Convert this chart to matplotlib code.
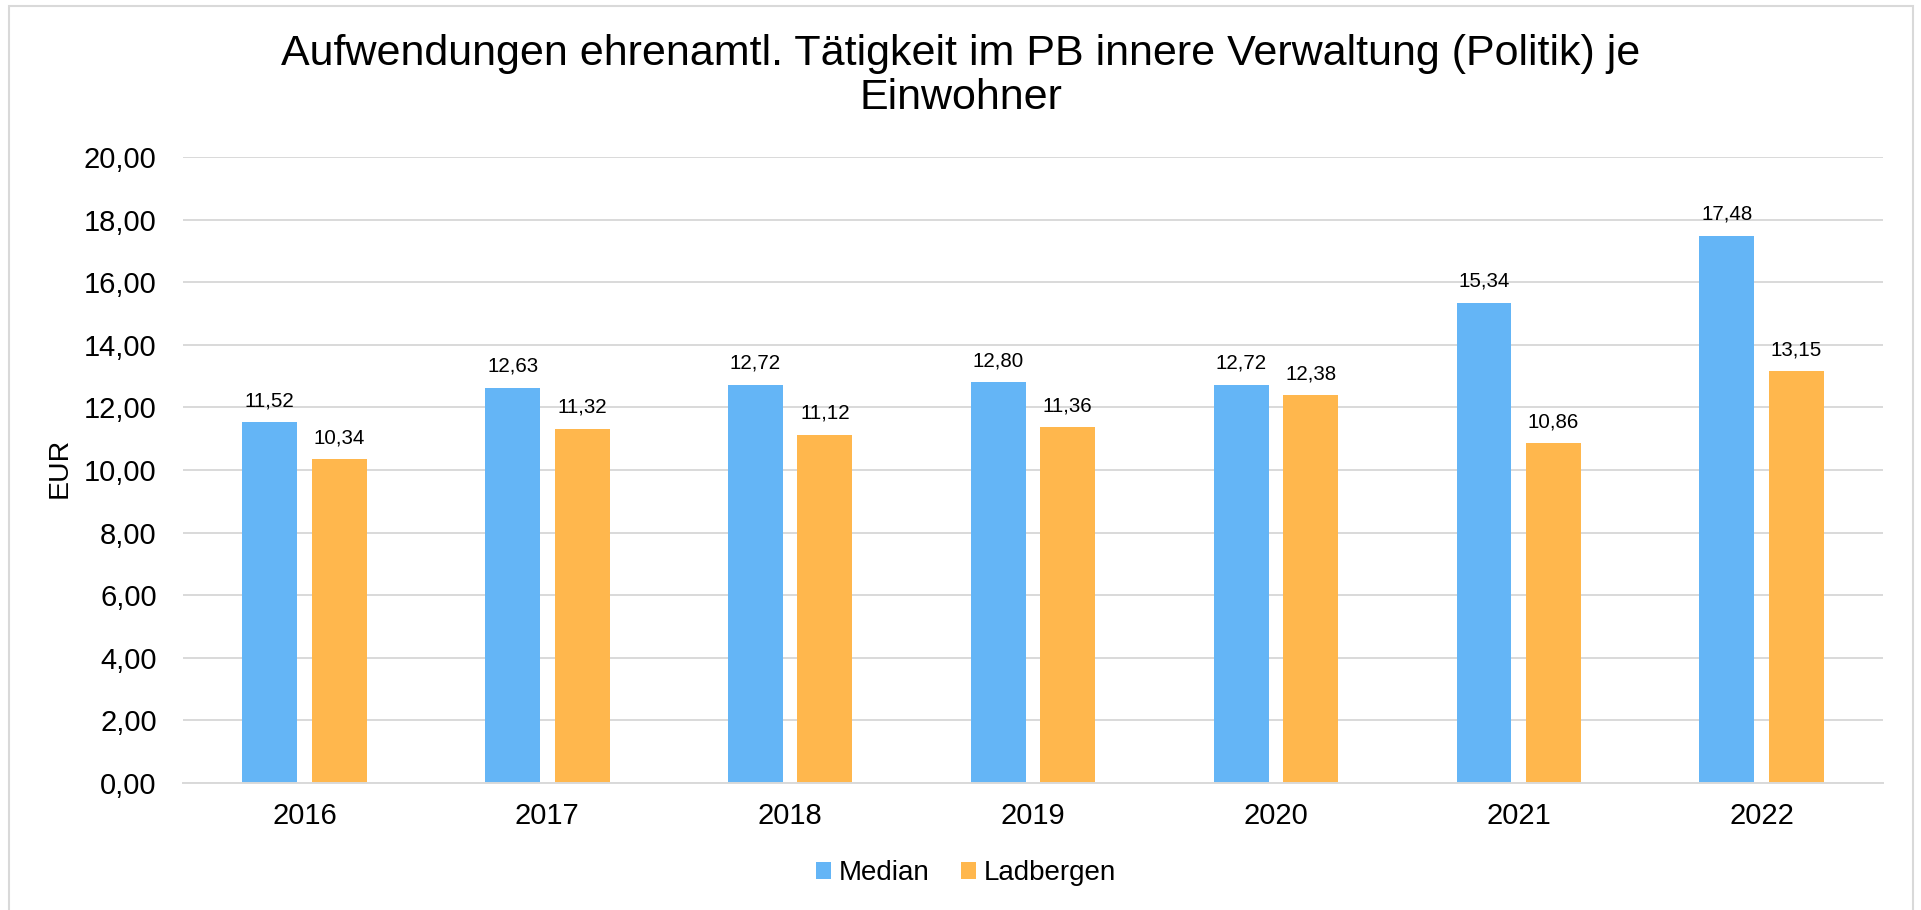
import matplotlib
matplotlib.use("Agg")
import matplotlib.pyplot as plt
from matplotlib.patches import Rectangle
import numpy as np

plt.rcParams['font.family'] = ['Liberation Sans', 'DejaVu Sans']

years = ["2016", "2017", "2018", "2019", "2020", "2021", "2022"]
median = [11.52, 12.63, 12.72, 12.80, 12.72, 15.34, 17.48]
ladbergen = [10.34, 11.32, 11.12, 11.36, 12.38, 10.86, 13.15]
yticks = [0, 2, 4, 6, 8, 10, 12, 14, 16, 18, 20]

title = "Aufwendungen ehrenamtl. Tätigkeit im PB innere Verwaltung (Politik) je\nEinwohner"

c_median = "#64B5F6"
c_lad = "#FFB74D"
grid_c = "#D9D9D9"

fig = plt.figure(figsize=(19.21, 9.10), dpi=100)
ax = fig.add_axes([0.0953, 0.1396, 0.8849, 0.6879])

x = np.arange(len(years))
w = 0.226
off = 0.143
b1 = ax.bar(x - off, median, w, color=c_median, label="Median", zorder=3)
b2 = ax.bar(x + off, ladbergen, w, color=c_lad, label="Ladbergen", zorder=3)

def fmt(v):
    return f"{v:.2f}".replace(".", ",")

for bars, vals in ((b1, median), (b2, ladbergen)):
    for rect, v in zip(bars, vals):
        ax.annotate(fmt(v), (rect.get_x() + rect.get_width() / 2, v),
                    xytext=(0, 11.5), textcoords="offset points",
                    ha="center", va="baseline", fontsize=14.8, color="black")

ax.set_xlim(-0.5, len(years) - 0.5)
ax.set_ylim(0, 20)
ax.set_yticks(yticks)
ax.set_yticklabels([fmt(v) for v in yticks])
ax.set_xticks(x)
ax.set_xticklabels(years)
ax.tick_params(axis="y", length=0, pad=19, labelsize=21)
ax.tick_params(axis="x", length=0, pad=14, labelsize=21)
ax.yaxis.grid(True, color=grid_c, linewidth=1.4, zorder=0)
ax.set_axisbelow(True)
for s in ("top", "right", "left"):
    ax.spines[s].set_visible(False)
ax.spines["bottom"].set_color(grid_c)
ax.spines["bottom"].set_linewidth(1.4)
ax.spines["bottom"].set_zorder(4)

fig.text(60 / 1921, 1 - 468 / 910, "EUR", rotation=90, ha="center", va="center", fontsize=20.5)

fig.text(0.5, 1 - 76 / 910, title, ha="center", va="center", fontsize=31, linespacing=1.13)

leg = fig.legend(handles=[b1, b2], loc="center", bbox_to_anchor=(966 / 1921, 1 - 873 / 910),
                 ncol=2, frameon=False, fontsize=20, handlelength=0.55, handleheight=0.55,
                 handletextpad=0.3, columnspacing=1.1)

fig.add_artist(Rectangle((9 / 1921, -0.05), (1913 - 9) / 1921, 1 - 6 / 910 + 0.05,
                         transform=fig.transFigure, fill=False, edgecolor=grid_c, linewidth=1.5))

fig.savefig("out.png", dpi=100)
